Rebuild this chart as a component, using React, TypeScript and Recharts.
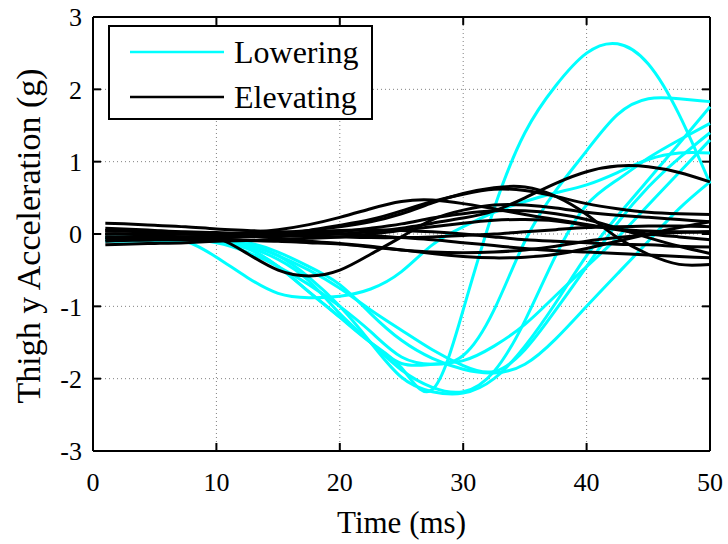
import { LineChart, Line, XAxis, YAxis, CartesianGrid, Legend, ReferenceLine } from 'recharts';

// sample times (ms)
const time = [1, 2.5, 5, 7.5, 10, 12.5, 15, 17.5, 20, 22.5, 25, 27.5, 30, 32.5, 35, 37.5, 40, 42.5, 45, 47.5, 50];

// Lowering trials (cyan)
const lowering1 = [-0.05, -0.05, -0.05, -0.06, -0.1, -0.2, -0.45, -0.8, -1.15, -1.5, -1.85, -2.15, -1.05, 0.35, 1.4, 2.05, 2.5, 2.63, 2.35, 1.65, 0.7];
const lowering2 = [-0.05, -0.05, -0.05, -0.1, -0.32, -0.6, -0.82, -0.88, -0.86, -0.76, -0.52, -0.15, 0.1, 0.3, 0.45, 0.57, 0.68, 0.85, 1.03, 1.12, 1.12];
const lowering3 = [-0.08, -0.08, -0.08, -0.08, -0.12, -0.25, -0.45, -0.7, -1.0, -1.35, -1.7, -1.8, -1.68, -1.05, -0.1, 0.6, 1.15, 1.65, 1.87, 1.87, 1.83];
const lowering4 = [-0.1, -0.1, -0.1, -0.1, -0.1, -0.18, -0.35, -0.65, -1.1, -1.5, -1.88, -2.12, -2.18, -1.9, -1.2, -0.3, 0.4, 0.75, 1.05, 1.3, 1.53];
const lowering5 = [-0.05, -0.05, -0.05, -0.06, -0.08, -0.15, -0.3, -0.6, -1.0, -1.5, -1.98, -2.18, -2.2, -2.0, -1.55, -0.95, -0.3, 0.25, 0.75, 1.25, 1.76];
const lowering6 = [-0.08, -0.08, -0.08, -0.09, -0.1, -0.15, -0.3, -0.5, -0.75, -1.05, -1.33, -1.6, -1.82, -1.9, -1.6, -1.05, -0.45, 0.15, 0.65, 1.05, 1.4];
const lowering7 = [-0.06, -0.06, -0.06, -0.07, -0.1, -0.2, -0.45, -0.8, -1.15, -1.5, -1.79, -1.8, -1.75, -1.55, -1.25, -0.85, -0.45, -0.05, 0.4, 0.85, 1.3];
const lowering8 = [-0.04, -0.04, -0.04, -0.05, -0.08, -0.12, -0.25, -0.45, -0.7, -1.1, -1.47, -1.72, -1.87, -1.92, -1.8, -1.45, -1.0, -0.55, -0.1, 0.35, 0.72];

// Elevating trials (black)
const elevating1 = [0, 0, 0, 0, -0.05, -0.27, -0.5, -0.58, -0.5, -0.28, -0.04, 0.2, 0.33, 0.4, 0.4, 0.36, 0.3, 0.26, 0.23, 0.2, 0.17];
const elevating2 = [-0.05, -0.05, -0.05, -0.04, -0.03, -0.03, -0.03, -0.02, 0, 0.03, 0.08, 0.15, 0.22, 0.32, 0.5, 0.7, 0.86, 0.94, 0.93, 0.85, 0.72];
const elevating3 = [0, 0, 0, 0, 0, 0, 0.02, 0.05, 0.1, 0.17, 0.28, 0.43, 0.56, 0.64, 0.65, 0.52, 0.27, -0.05, -0.28, -0.42, -0.42];
const elevating4 = [0.05, 0.04, 0.02, 0, 0, 0.02, 0.06, 0.13, 0.23, 0.35, 0.45, 0.47, 0.42, 0.35, 0.27, 0.2, 0.13, 0.07, 0.04, 0.03, 0.03];
const elevating5 = [-0.05, -0.05, -0.05, -0.05, -0.04, -0.02, 0, 0.05, 0.12, 0.2, 0.32, 0.45, 0.55, 0.62, 0.6, 0.52, 0.42, 0.35, 0.3, 0.28, 0.27];
const elevating6 = [0.05, 0.05, 0.04, 0.02, 0, -0.03, -0.06, -0.1, -0.13, -0.17, -0.22, -0.27, -0.31, -0.33, -0.32, -0.28, -0.2, -0.1, 0, 0.09, 0.17];
const elevating7 = [0.15, 0.14, 0.12, 0.1, 0.07, 0.05, 0.03, 0.02, 0, -0.02, -0.05, -0.08, -0.12, -0.16, -0.2, -0.23, -0.25, -0.27, -0.29, -0.31, -0.33];
const elevating8 = [-0.1, -0.09, -0.08, -0.06, -0.05, -0.03, 0, 0.03, 0.05, 0.06, 0.05, 0.03, 0, -0.04, -0.08, -0.1, -0.12, -0.14, -0.15, -0.17, -0.18];
const elevating9 = [-0.15, -0.14, -0.13, -0.12, -0.1, -0.09, -0.08, -0.06, -0.04, 0, 0.05, 0.1, 0.15, 0.19, 0.2, 0.18, 0.12, 0.06, 0, -0.04, -0.08];
const elevating10 = [0, 0, -0.02, -0.04, -0.05, -0.04, -0.02, 0, 0.03, 0.08, 0.14, 0.22, 0.28, 0.32, 0.32, 0.28, 0.2, 0.08, -0.05, -0.17, -0.27];
const elevating11 = [-0.08, -0.08, -0.08, -0.08, -0.08, -0.09, -0.1, -0.12, -0.14, -0.18, -0.22, -0.25, -0.26, -0.25, -0.22, -0.17, -0.1, -0.05, -0.01, 0.02, 0.03];
const elevating12 = [0.08, 0.07, 0.05, 0.03, 0.02, 0, -0.02, -0.03, -0.04, -0.05, -0.05, -0.04, -0.02, 0, 0.03, 0.06, 0.09, 0.1, 0.11, 0.11, 0.1];

const lowering = [lowering1, lowering2, lowering3, lowering4, lowering5, lowering6, lowering7, lowering8];
const elevating = [elevating1, elevating2, elevating3, elevating4, elevating5, elevating6, elevating7, elevating8, elevating9, elevating10, elevating11, elevating12];

const xTicks = [0, 10, 20, 30, 40, 50];
const yTicks = [-3, -2, -1, 0, 1, 2, 3];

const rows = time.map((t, i) => {
  const row: Record<string, number> = { t };
  lowering.forEach((s, k) => (row['low' + k] = s[i]));
  elevating.forEach((s, k) => (row['elev' + k] = s[i]));
  return row;
});

const font = 'Liberation Serif';
const CYAN = '#00FFFF';
// inner tick length on the top / right edges, in data units (about 8px)
const TOP_TICK = 0.11;
const RIGHT_TICK = 0.65;

function YTitle({ viewBox }: any) {
  const cx = viewBox.x + 28;
  const cy = viewBox.y + viewBox.height / 2 + 2;
  return (
    <text
      x={cx}
      y={cy}
      transform={`rotate(-90, ${cx}, ${cy})`}
      textAnchor="middle"
      dominantBaseline="central"
      style={{ fontFamily: font, fontSize: 34 }}
      fill="#000"
    >
      Thigh y Acceleration (g)
    </text>
  );
}

function XTitle({ viewBox }: any) {
  const cx = viewBox.x + viewBox.width / 2;
  return (
    <text x={cx} y={viewBox.y + 82} textAnchor="middle" style={{ fontFamily: font, fontSize: 31 }} fill="#000">
      Time (ms)
    </text>
  );
}

function LegendBox() {
  const entries = [
    { name: 'Lowering', color: CYAN },
    { name: 'Elevating', color: '#000' },
  ];
  return (
    <div
      style={{
        position: 'relative',
        width: 261,
        height: 91,
        border: '2px solid #000',
        background: '#fff',
        fontFamily: font,
        fontSize: 32,
        color: '#000',
      }}
    >
      {entries.map((e, i) => (
        <div key={e.name} style={{ position: 'absolute', left: 0, top: 6 + i * 45, height: 38, display: 'flex', alignItems: 'center' }}>
          <svg width={124} height={10}>
            <line x1={20} x2={114} y1={5} y2={5} stroke={e.color} strokeWidth={2.5} />
          </svg>
          <span style={{ lineHeight: '38px' }}>{e.name}</span>
        </div>
      ))}
    </div>
  );
}

export default function App() {
  const axisStyle = { stroke: '#000', strokeWidth: 2 };
  const tickText = { fill: '#000', fontSize: 26, fontFamily: font };
  return (
    <div style={{ position: 'absolute', left: 0, top: 0, background: '#fff' }}>
      <LineChart width={728} height={544} data={rows} margin={{ top: 17, right: 18, bottom: 0, left: 0 }}>
        <CartesianGrid stroke="#808080" strokeDasharray="1 3" />
        <XAxis
          dataKey="t"
          type="number"
          domain={[0, 50]}
          ticks={xTicks}
          height={93}
          tickSize={-8}
          tickMargin={30}
          axisLine={axisStyle}
          tickLine={axisStyle}
          tick={tickText}
          label={<XTitle />}
        />
        <YAxis
          type="number"
          domain={[-3, 3]}
          ticks={yTicks}
          width={93}
          tickSize={-8}
          tickMargin={19}
          axisLine={axisStyle}
          tickLine={axisStyle}
          tick={tickText}
          label={<YTitle />}
        />
        {/* box frame on the top and right edges, with inward ticks */}
        <ReferenceLine y={3} stroke="#000" strokeWidth={2} />
        <ReferenceLine x={50} stroke="#000" strokeWidth={2} />
        {xTicks.map((v) => (
          <ReferenceLine key={'tt' + v} segment={[{ x: v, y: 3 }, { x: v, y: 3 - TOP_TICK }]} stroke="#000" strokeWidth={2} />
        ))}
        {yTicks.map((v) => (
          <ReferenceLine key={'rt' + v} segment={[{ x: 50, y: v }, { x: 50 - RIGHT_TICK, y: v }]} stroke="#000" strokeWidth={2} />
        ))}
        <Legend
          layout="horizontal"
          verticalAlign="middle"
          align="center"
          content={() => <LegendBox />}
          wrapperStyle={{ top: 25, left: 108, width: 'auto' }}
        />
        {lowering.map((_, k) => (
          <Line
            key={'low' + k}
            dataKey={'low' + k}
            type="natural"
            stroke={CYAN}
            strokeWidth={3}
            dot={false}
            isAnimationActive={false}
          />
        ))}
        {elevating.map((_, k) => (
          <Line
            key={'elev' + k}
            dataKey={'elev' + k}
            type="natural"
            stroke="#000"
            strokeWidth={3}
            dot={false}
            isAnimationActive={false}
          />
        ))}
      </LineChart>
    </div>
  );
}
